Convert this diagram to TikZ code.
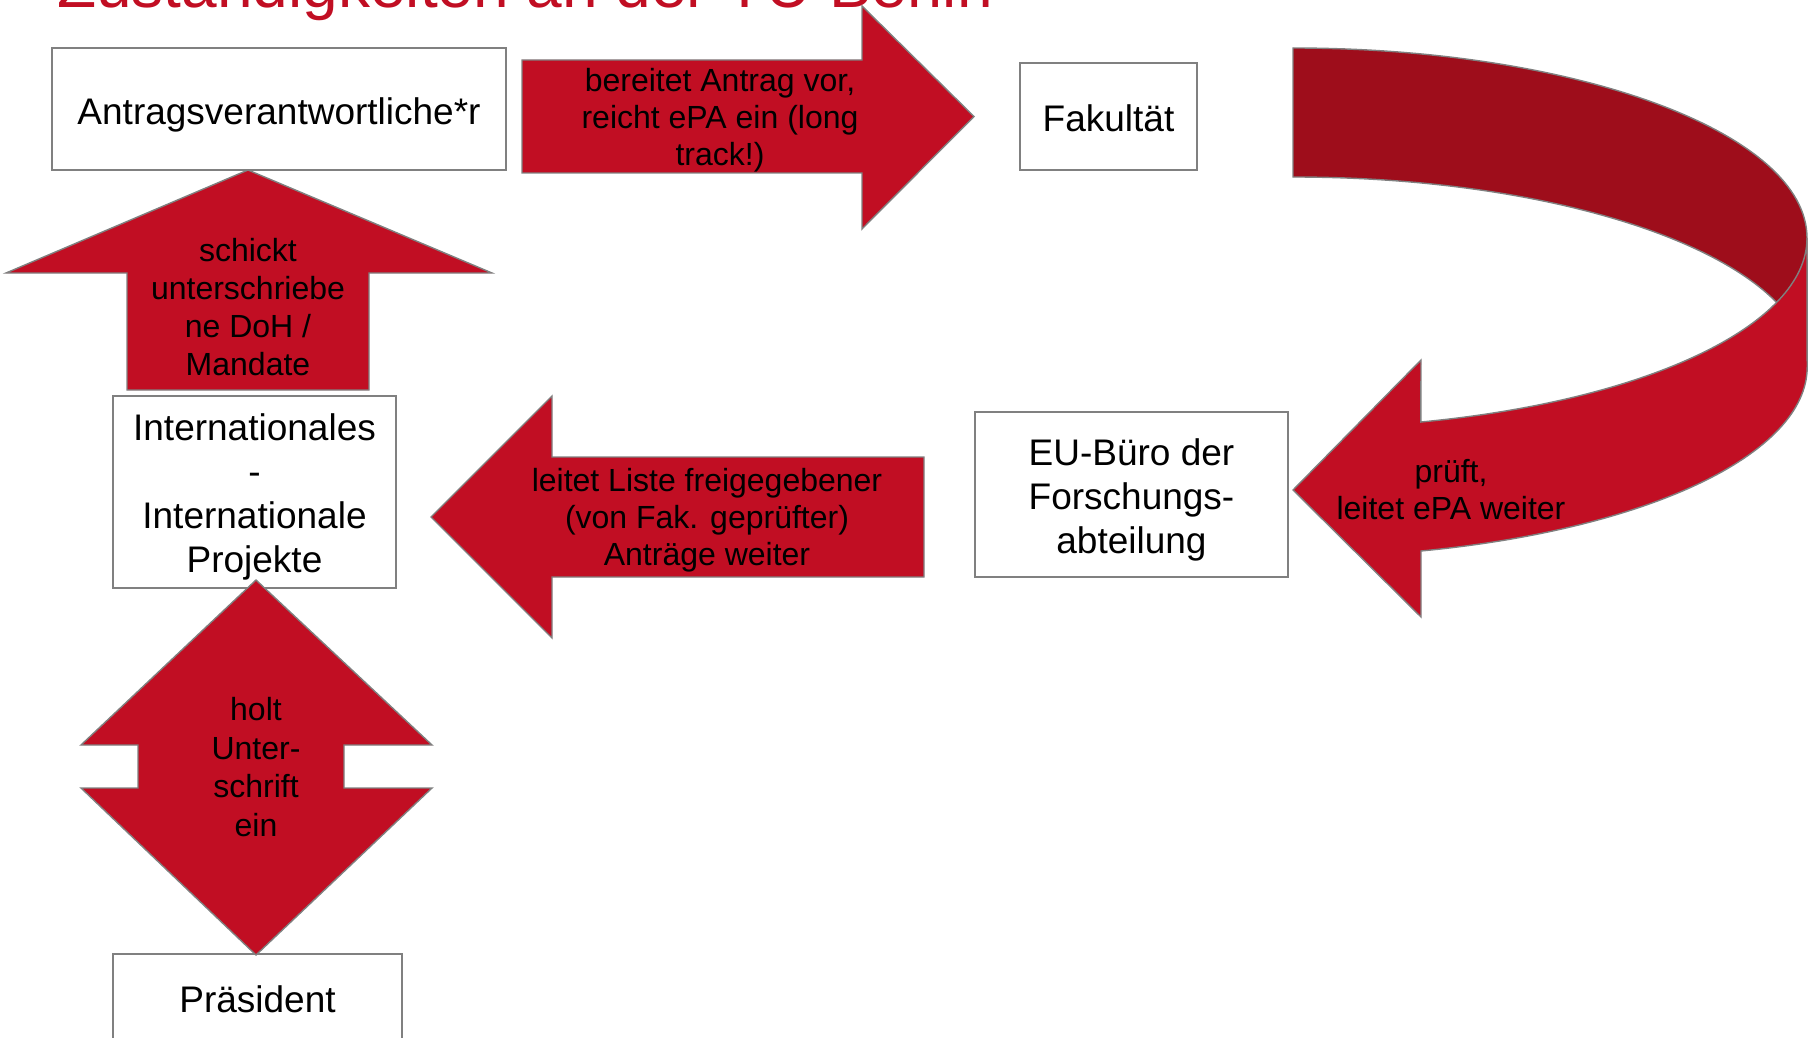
\documentclass[tikz,border=0pt]{standalone}
\usepackage{fontspec}
\setmainfont{Liberation Sans}
\definecolor{tured}{RGB}{193,14,35}
\definecolor{tudark}{RGB}{158,13,27}
\definecolor{rim}{RGB}{128,128,128}
\newcommand\topstrut[1]{\rule{0pt}{#1}}

\begin{document}
\begin{tikzpicture}[x=1pt, y=-1pt, line join=miter,
  box/.style={draw=rim, line width=1.8pt, fill=white, inner sep=0pt, align=center,
              font=\fontsize{37}{44}\selectfont},
  blockarrow/.style={fill=tured, draw=rim, line width=1.4pt},
  arrowtext/.style={align=center, inner sep=0pt, font=\fontsize{32}{37}\selectfont}]

  %% ════ title (cut by the top edge) ════
  \node[anchor=base west, inner sep=0pt, text=tured, font=\fontsize{64}{77}\selectfont]
    (title) at (57,8) {Zuständigkeiten an der TU Berlin};

  %% ════ boxes ════
  \node[box, minimum width=454pt, minimum height=122pt] (antrag) at (279,109) {\topstrut{39pt}Antragsverantwortliche*r};
  \node[box, minimum width=177pt, minimum height=107pt] (fak) at (1108.5,116.5) {\topstrut{31pt}Fakultät};
  \node[box, minimum width=313pt, minimum height=165pt] (eubuero) at (1131.5,494.5) {\topstrut{37pt}EU-Büro der\\Forschungs-\\abteilung};
  \node[box, minimum width=283pt, minimum height=192pt] (intl) at (254.5,492) {\topstrut{36pt}Internationales\\-\\Internationale\\Projekte};
  \node[box, minimum width=289pt, minimum height=90pt] (praes) at (257.5,999) {Präsident};

  %% ════ block arrows ════
  % Antragsverantwortliche*r -> Fakultät
  \draw[blockarrow] (522,60) -- (862,60) -- (862,6) -- (974,116.5) -- (862,229) -- (862,173) -- (522,173) -- cycle;
  % Internationales -> Antragsverantwortliche*r
  \draw[blockarrow] (127,390) -- (127,273) -- (6,273) -- (248,170) -- (492,273) -- (369,273) -- (369,390) -- cycle;
  % EU-Büro -> Internationales
  \draw[blockarrow] (924,457) -- (552,457) -- (552,396) -- (431,517) -- (552,638) -- (552,577) -- (924,577) -- cycle;
  % Internationales <-> Präsident
  \draw[blockarrow] (256,580) -- (432,745) -- (344,745) -- (344,788) -- (432,788) -- (256,955)
    -- (81,788) -- (138,788) -- (138,745) -- (81,745) -- cycle;

  % Fakultät -> EU-Büro: ribbon, back half then front half
  \draw[blockarrow, fill=tudark] (1293,48) arc[start angle=-90, end angle=0, x radius=514, y radius=190]
    -- (1807,367) arc[start angle=0, end angle=-90, x radius=514, y radius=190] -- cycle;
  \draw[blockarrow] (1807,238) arc[start angle=0, end angle=75.6, x radius=514, y radius=190]
    -- (1421,360) -- (1293,490) -- (1421,617) -- (1421,551)
    arc[start angle=75.6, end angle=0, x radius=514, y radius=190] -- cycle;

  %% ════ arrow labels ════
  \node[arrowtext] (lblvor) at (720,120.5) {bereitet Antrag vor,\\reicht ePA ein (long\\track!)};
  \node[arrowtext, font=\fontsize{32}{38}\selectfont] (lbldoh) at (248,307) {schickt\\unterschriebe\\ne DoH /\\Mandate};
  \node[arrowtext] (lblliste) at (707,520.5) {leitet Liste freigegebener\\(von Fak. geprüfter)\\Anträge weiter};
  \node[arrowtext, font=\fontsize{32}{38.5}\selectfont] (lblholt) at (256,767) {holt\\Unter-\\schrift\\ein};
  \node[arrowtext] (lblprueft) at (1451,490) {prüft,\\leitet ePA weiter};

  \pgfresetboundingbox
  \path[use as bounding box] (0,0) rectangle (1808,1038);
\end{tikzpicture}
\end{document}
